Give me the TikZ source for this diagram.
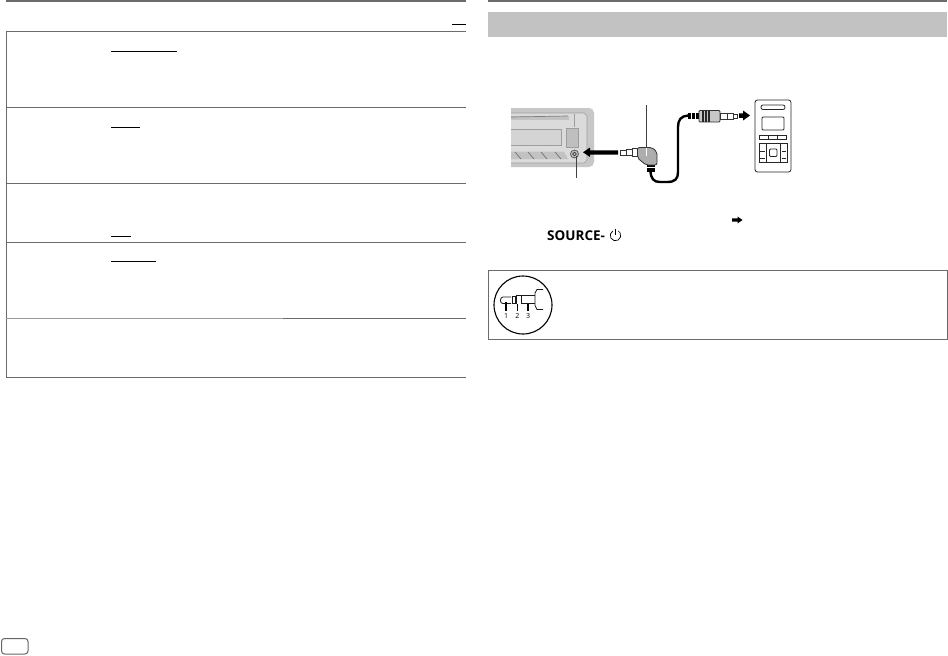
\documentclass[tikz,border=0pt]{standalone}
\usepackage{fontspec}
\setmainfont{Open Sans}
\begin{document}
\begin{tikzpicture}[x=1pt,y=-1pt,
  rule/.style={draw=black!58,line width=1pt},
  heavy/.style={draw=black!58,line width=2pt},
  under/.style={draw=black,line width=1pt},
  thinline/.style={draw=black!75,line width=.6pt},
  panel/.style={draw=black!38,line width=.6pt},
  plug/.style={draw=black!80,fill=black!22,line width=.8pt},
  devline/.style={draw=black!85,line width=.8pt},
  jackline/.style={draw=black!90,line width=.85pt},
  tiny/.style={inner sep=0pt,font=\fontsize{7}{8}\selectfont}]
\useasboundingbox (0,0) rectangle (948,656);
\fill[white] (0,0) rectangle (948,656);

% page header rules
\draw[heavy] (6,1) -- (466,1);
\draw[heavy] (488,1) -- (947,1);
\fill[black!24] (488,12) rectangle (947,37);

% left table
\draw[rule] (6.5,31.5) -- (6.5,377.5);
\draw[rule] (6,31.5) -- (466,31.5);
\draw[rule] (6,107.5) -- (466,107.5);
\draw[rule] (6,183.5) -- (466,183.5);
\draw[rule] (6,242.5) -- (466,242.5);
\draw[draw=black!40,line width=1pt] (6,318.5) -- (283,318.5);
\draw[rule] (283,318.5) -- (466,318.5);
\draw[rule] (6,377.5) -- (466,377.5);
\draw[under] (452,24.5) -- (466,24.5);
\draw[under] (111,51.5) -- (177,51.5);
\draw[under] (111,127.5) -- (140,127.5);
\draw[under] (111,236.5) -- (131,236.5);
\draw[under] (111,261.5) -- (156,261.5);

% head unit
\fill[black!22] (511,108) -- (589,108) to[out=0,in=90] (594,113) -- (594,162) to[out=-90,in=0] (589,167) -- (511,167) -- cycle;
\fill[black!14] (511,113) -- (584,113) -- (587,116) -- (587,160) -- (584,163) -- (511,163) -- cycle;
\draw[panel] (511,113) -- (584,113) -- (587,116) -- (587,160) -- (584,163) -- (511,163);
\fill[black!24] (511,115.5) -- (569,115.5) -- (569,120) -- (511,120) -- cycle;
\draw[black!50,line width=.7pt] (511,117) -- (568,116);
\draw[panel] (574,114) -- (574,127);
\draw[panel,fill=black!17] (511,129.5) -- (561,129.5) -- (561,145) -- (511,145);
\draw[panel,fill=black!25] (566,128) rectangle (578,147);
\fill[black!24] (511,151.5) -- (564,151.5) -- (568,159) -- (511,159) -- cycle;
\foreach \a in {515,528,541,555}
  \draw[black!60,line width=.6pt] (\a,152) -- (\a+6,159);
\draw[black!65,line width=.8pt,fill=black!22] (574.5,154) circle (4);
\draw[black!80,line width=.7pt] (574.5,154) circle (1.8);

% leaders
\coordinate (jack) at (576,156);
\coordinate (jacklabel) at (576,178);
\draw[thinline] (jack) -- (jacklabel);

% arrow to the head unit
\fill[black] (583,152.3) -- (590,147.5) -- (590,150.3) -- (618,150.3) -- (618,154.6) -- (590,154.6) -- (590,157) -- cycle;

% cable
\draw[black,line width=2.4pt,line cap=round] (650.5,170)
  .. controls (650.5,179) and (654,182) .. (660,182) -- (667,182)
  .. controls (675,182) and (678,179) .. (678,172) -- (678,127)
  .. controls (678,120) and (681,116) .. (688,115.5) -- (692,115.5);

% angled plug
\fill[black] (647,164) rectangle (655,172);
\draw[white,line width=.5pt] (647,167.5) -- (655,167.5);
\draw[plug,fill=white] (620,150) rectangle (626,155);
\draw[plug,fill=white] (626,149.5) rectangle (632,155.5);
\draw[plug,fill=white] (632,148.5) rectangle (638,156);
\draw[plug,fill=black!32,rounded corners=2pt] (637.5,147.5) -- (652,147.5) -- (657,152) -- (657,165) -- (646,165) -- (637.5,158) -- cycle;

% straight plug
\fill[black] (688,112.5) rectangle (699,119);
\draw[white,line width=.5pt] (691,112.5) -- (691,119);
\draw[white,line width=.5pt] (695,112.5) -- (695,119);
\draw[plug,rounded corners=1pt] (699,110.5) rectangle (720,122);
\foreach \a in {703,706,709}
  \draw[black!85,line width=1.2pt] (\a,110.5) -- (\a,122);
\draw[plug,fill=white] (720,113) rectangle (727,119);
\draw[plug,fill=white] (727,113) rectangle (733,119);
\draw[plug,fill=white] (733,114) rectangle (737,118);

% arrow to the player
\fill[black] (750,115.5) -- (743,110.5) -- (743,113.3) -- (739,113.3) -- (739,117.8) -- (743,117.8) -- (743,120.5) -- cycle;

% leader to the plug
\coordinate (pluglabel) at (646,105);
\coordinate (plugbody) at (646,147.5);
\coordinate (plugend) at (646,156);
\draw[thinline] (pluglabel) -- (plugbody);
\draw[white,line width=.6pt] (plugbody) -- (plugend);

% portable player
\draw[devline,rounded corners=2.5pt] (755,100) rectangle (791,172);
\draw[devline,rounded corners=2pt] (761,105) rectangle (785,109.5);
\draw[devline,rounded corners=1pt] (762,117) rectangle (784,130);
\draw[devline] (759.5,135) rectangle (786.5,139);
\draw[devline] (768.5,135) -- (768.5,139) (777.5,135) -- (777.5,139);
\draw[devline] (759,143) rectangle (787,162);
\draw[devline,fill=white] (766.5,143) rectangle (780.5,162);
\draw[devline,rounded corners=1pt] (769.5,149) rectangle (777,156.5);
\foreach \b in {143.5,151,158.5}{
  \draw[devline] (760,\b) -- (765,\b);
  \draw[devline] (782,\b) -- (786,\b);}

% small arrow and source key
\fill[black] (742.5,220) -- (737.5,216.5) -- (737.5,218.4) -- (732,218.4) -- (732,221.6) -- (737.5,221.6) -- (737.5,223.5) -- cycle;
\node[anchor=west,inner sep=0pt,font=\fontsize{13.5}{15}\selectfont\bfseries] (src) at (547,235.2) {SOURCE-};
\coordinate (pw) at (615.5,235.5);
\draw[black,line width=.7pt] (pw) ++(-2.65,-4.6) arc[start angle=240,delta angle=-300,radius=5.3];
\draw[black,line width=.7pt] (pw) ++(0,-7) -- ++(0,6);

% note box
\draw[rule] (488.5,270.5) rectangle (947.5,339.5);
\draw[black,line width=1.1pt] (523,305) circle (29);
\draw[jackline,rounded corners=1pt] (511,297) -- (502,297) -- (500.5,299) -- (500.5,302) -- (502,303.5) -- (511,303.5);
\draw[jackline] (512,296) rectangle (515,303.5);
\draw[jackline] (516,295) -- (535,295) (521,295) -- (521,303.5) (516,295) -- (516,303.5);
\draw[jackline] (521,303.5) -- (535,303.5);
\draw[jackline] (543,289.5) -- (537,289.5) -- (535,293) -- (535,305.5) -- (537,309.5) -- (543,309.5);
\draw[black,line width=1.2pt] (506,301.5) -- (506,310.5);
\draw[black,line width=.7pt] (517.3,303.5) -- (517.3,310.5);
\draw[black,line width=1.2pt] (528,303.5) -- (528,310.5);
\node[tiny] (n1) at (506,315.7) {1};
\node[tiny] (n2) at (517.3,315.7) {2};
\node[tiny] (n3) at (528,315.7) {3};

% page tab
\draw[black!60,line width=1pt,rounded corners=3pt] (1.5,638.5) rectangle (28,654);
\end{tikzpicture}
\end{document}
